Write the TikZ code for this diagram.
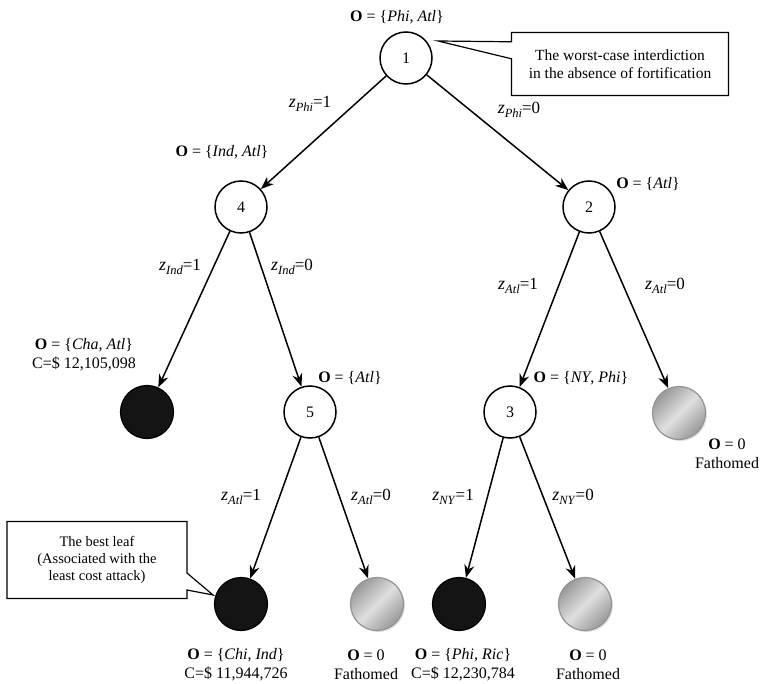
\documentclass[tikz,border=0pt]{standalone}
\usepackage{fontspec}
\setmainfont{Liberation Serif}
\usetikzlibrary{arrows.meta,shapes.callouts,shadows}
\newcommand{\zl}[2]{\textit{z}{\fontsize{12.5}{12}\selectfont\raisebox{-3.5pt}{\textit{#1}}}{\fontsize{17}{17}\selectfont =#2}}
\begin{document}
\begin{tikzpicture}[x=1pt,y=-1pt,
  every node/.style={font=\fontsize{16}{19}\selectfont},
  st/.style={circle,draw,line width=1.5pt,minimum size=52pt,inner sep=0pt,fill=white},
  blk/.style={circle,draw=black,line width=1.2pt,fill=black!92,minimum size=53pt,inner sep=0pt},
  gry/.style={circle,draw=gray!85,line width=1.2pt,minimum size=53pt,inner sep=0pt,
    left color=gray!80,right color=gray!80,middle color=gray!25,shading angle=45,
    drop shadow={opacity=0.25,shadow xshift=1.5pt,shadow yshift=-1.5pt}},
  arr/.style={line width=1.5pt,-{Stealth[length=13pt,width=10pt]}},
  lbl/.style={inner sep=0pt,align=center},
  zlb/.style={inner sep=0pt,font=\fontsize{18}{19}\selectfont},
  call/.style={rectangle callout,draw,line width=1.2pt,fill=white,align=center,
    font=\fontsize{15.5}{18}\selectfont,callout pointer width=17pt}
]
\path[use as bounding box] (0,0) rectangle (765,684);

% tree nodes
\node[st] (n1) at (406,58) {1};
\node[st] (n4) at (241,207) {4};
\node[st] (n2) at (589,207) {2};
\node[blk] (cha) at (147,412) {};
\node[st] (n5) at (310,412) {5};
\node[st] (n3) at (510,412) {3};
\node[gry] (g1) at (679,413) {};
\node[blk] (chi) at (241,604) {};
\node[gry] (g2) at (377,604) {};
\node[blk] (phi) at (459,604) {};
\node[gry] (g3) at (585,604) {};

% connectors
\draw[arr] (n1) -- (n4);
\draw[arr] (n1) -- (n2);
\draw[arr] (n4) -- (cha);
\draw[arr] (n4) -- (n5);
\draw[arr] (n2) -- (n3);
\draw[arr] (n2) -- (g1);
\draw[arr] (n5) -- (chi);
\draw[arr] (n5) -- (g2);
\draw[arr] (n3) -- (phi);
\draw[arr] (n3) -- (g3);

% O labels
\node[lbl] (o1) at (397,17) {\textbf{O} = \{\textit{Phi}, \textit{Atl}\}};
\node[lbl] (o4) at (222,152) {\textbf{O} = \{\textit{Ind}, \textit{Atl}\}};
\node[lbl] (o2) at (648,184) {\textbf{O} = \{\textit{Atl}\}};
\node[lbl] (ocha) at (84,355) {\textbf{O} = \{\textit{Cha}, \textit{Atl}\}\\C=\$ 12,105,098};
\node[lbl] (o5) at (350,378) {\textbf{O} = \{\textit{Atl}\}};
\node[lbl] (o3) at (581,378) {\textbf{O} = \{\textit{NY}, \textit{Phi}\}};
\node[lbl] (og1) at (727,454) {\textbf{O} = 0\\Fathomed};
\node[lbl] (ochi) at (236,665) {\textbf{O} = \{\textit{Chi}, \textit{Ind}\}\\C=\$ 11,944,726};
\node[lbl] (og2) at (366,665) {\textbf{O} = 0\\Fathomed};
\node[lbl] (ophi) at (463,665) {\textbf{O} = \{\textit{Phi}, \textit{Ric}\}\\C=\$ 12,230,784};
\node[lbl] (og3) at (588,665) {\textbf{O} = 0\\Fathomed};

% z labels
\node[zlb] (z1) at (310,104) {\zl{Phi}{1}};
\node[zlb] (z2) at (519,110) {\zl{Phi}{0}};
\node[zlb] (z3) at (180,267) {\zl{Ind}{1}};
\node[zlb] (z4) at (292,267) {\zl{Ind}{0}};
\node[zlb] (z5) at (518,286) {\zl{Atl}{1}};
\node[zlb] (z6) at (665,286) {\zl{Atl}{0}};
\node[zlb] (z7) at (241,497) {\zl{Atl}{1}};
\node[zlb] (z8) at (371,497) {\zl{Atl}{0}};
\node[zlb] (z9) at (453,497) {\zl{NY}{1}};
\node[zlb] (z10) at (573,497) {\zl{NY}{0}};

% callouts
\coordinate (tip1) at (438,41);
\node[call,minimum width=217pt,minimum height=63pt,callout absolute pointer=(tip1)] (c1) at (620,64)
  {The worst-case interdiction\\in the absence of fortification};
\coordinate (tip2) at (213,595);
\node[call,minimum width=180pt,minimum height=77pt,callout absolute pointer=(tip2),
  font=\fontsize{14.5}{17}\selectfont] (c2) at (97,560)
  {The best leaf\\(Associated with the\\least cost attack)};
\end{tikzpicture}
\end{document}
